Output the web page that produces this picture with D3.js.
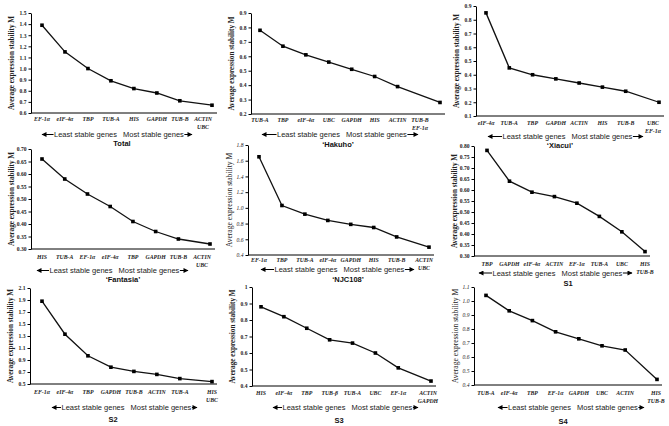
<!DOCTYPE html>
<html><head><meta charset="utf-8">
<script src="https://cdn.jsdelivr.net/npm/d3@7"></script>
<style>body{margin:0;background:#fff}svg{display:block}</style>
</head><body>
<svg id="c" width="669" height="426"></svg>
<script>
// ---- data ----
const titles = ["Total", "‘Hakuho’", "‘Xiacui’", "‘Fantasia’", "‘NJC108’", "S1", "S2", "S3", "S4"];

const genesTotal = ["EF-1α","eIF-4α","TBP","TUB-A","HIS","GAPDH","TUB-B","ACTIN/UBC"];
const valsTotal  = [1.39, 1.15, 1.00, 0.89, 0.82, 0.78, 0.71, 0.67];
const ticksTotal = [0.6,0.7,0.8,0.9,1.0,1.1,1.2,1.3,1.4,1.5];

const genesHakuho = ["TUB-A","TBP","eIF-4α","UBC","GAPDH","HIS","ACTIN","TUB-B/EF-1α"];
const valsHakuho  = [0.78, 0.67, 0.61, 0.56, 0.51, 0.46, 0.39, 0.28];
const ticksHakuho = [0.2,0.3,0.4,0.5,0.6,0.7,0.8,0.9];

const genesXiacui = ["eIF-4α","TUB-A","TBP","GAPDH","ACTIN","HIS","TUB-B","UBC/EF-1α"];
const valsXiacui  = [0.85, 0.45, 0.40, 0.37, 0.34, 0.31, 0.28, 0.20];
const ticksXiacui = [0.1,0.2,0.3,0.4,0.5,0.6,0.7,0.8,0.9];

const genesFantasia = ["HIS","TUB-A","EF-1α","eIF-4α","TBP","GAPDH","TUB-B","ACTIN/UBC"];
const valsFantasia  = [0.66, 0.58, 0.52, 0.47, 0.41, 0.37, 0.34, 0.32];
const ticksFantasia = [0.30,0.35,0.40,0.45,0.50,0.55,0.60,0.65,0.70];

const genesNJC = ["EF-1α","TBP","TUB-A","eIF-4α","GAPDH","HIS","TUB-B","ACTIN/UBC"];
const valsNJC  = [1.65, 1.03, 0.92, 0.84, 0.79, 0.75, 0.63, 0.50];
const ticksNJC = [0.4,0.6,0.8,1.0,1.2,1.4,1.6,1.8];

const genesS1 = ["TBP","GAPDH","eIF-4α","ACTIN","EF-1α","TUB-A","UBC","HIS/TUB-B"];
const valsS1  = [0.78, 0.64, 0.59, 0.57, 0.54, 0.48, 0.41, 0.32];
const ticksS1 = [0.30,0.35,0.40,0.45,0.50,0.55,0.60,0.65,0.70,0.75,0.80];

const genesS2 = ["EF-1α","eIF-4α","TBP","GAPDH","TUB-B","ACTIN","TUB-A","HIS/UBC"];
const valsS2  = [1.88, 1.33, 0.97, 0.78, 0.71, 0.66, 0.59, 0.54];
const ticksS2 = [0.5,0.7,0.9,1.1,1.3,1.5,1.7,1.9,2.1];

const genesS3 = ["HIS","eIF-4α","TBP","TUB-β","TUB-A","UBC","EF-1α","ACTIN/GAPDH"];
const valsS3  = [0.88, 0.82, 0.75, 0.68, 0.66, 0.60, 0.51, 0.43];
const ticksS3 = [0.4,0.5,0.6,0.7,0.8,0.9,1];

const genesS4 = ["TUB-A","eIF-4α","TBP","EF-1α","GAPDH","UBC","ACTIN","HIS/TUB-B"];
const valsS4  = [1.04, 0.93, 0.86, 0.78, 0.73, 0.68, 0.65, 0.44];
const ticksS4 = [0.4,0.5,0.6,0.7,0.8,0.9,1.0,1.1];

const tickFormats = [".1f",".1f",".1f",".2f",".1f",".2f",".1f","~g",".1f"];

// ---- layout (positions / styles only) ----
const layout = [
  {left:31, top:13, bottom:113, x0:42, xN:212, gap:1.40, lastDx:-9, labelY:121, arrowY:137, ax:[42,192], titleX:122, titleY:146, bold:true},
  {left:251, top:13, bottom:114, x0:260, xN:440, gap:1.85, lastDx:-20, labelY:122, arrowY:137, ax:[262,418], titleX:338, titleY:147, bold:true},
  {left:476, top:6, bottom:116, x0:486, xN:659, gap:1.43, lastDx:-6, labelY:125, arrowY:139, ax:[488,643], titleX:560, titleY:148, bold:true},
  {left:31, top:149, bottom:249, x0:42, xN:210, gap:1.39, lastDx:-8, labelY:259, arrowY:273, ax:[37,188], titleX:123, titleY:282, bold:true},
  {left:248, top:145, bottom:255, x0:259, xN:429, gap:1.41, lastDx:-5, labelY:262, arrowY:272, ax:[261,414], titleX:348, titleY:282, bold:false},
  {left:474, top:146, bottom:256, x0:487, xN:645, gap:1.03, lastDx:0, labelY:266, arrowY:275.5, ax:[479,632], titleX:568, titleY:285.5, bold:true},
  {left:30, top:288, bottom:384, x0:42, xN:212, gap:1.40, lastDx:0, labelY:394, arrowY:410, ax:[52,197], titleX:113, titleY:422, bold:true},
  {left:252, top:287, bottom:386, x0:261, xN:431, gap:1.43, lastDx:-3, labelY:395, arrowY:410, ax:[273,418], titleX:339, titleY:423, bold:true},
  {left:474, top:287, bottom:385, x0:486, xN:657, gap:1.37, lastDx:-1, labelY:395, arrowY:410, ax:[498,644], titleX:563, titleY:424, bold:false}
];

const panels = [
  [genesTotal, valsTotal, ticksTotal],
  [genesHakuho, valsHakuho, ticksHakuho],
  [genesXiacui, valsXiacui, ticksXiacui],
  [genesFantasia, valsFantasia, ticksFantasia],
  [genesNJC, valsNJC, ticksNJC],
  [genesS1, valsS1, ticksS1],
  [genesS2, valsS2, ticksS2],
  [genesS3, valsS3, ticksS3],
  [genesS4, valsS4, ticksS4]
];

const svg = d3.select("#c");
const serif = "'Liberation Serif','Times New Roman',serif";
const sans = "'Liberation Sans',Arial,sans-serif";

// arrow marker
const defs = svg.append("defs");
defs.append("marker").attr("id","ah").attr("viewBox","0 0 10 10")
  .attr("refX",9).attr("refY",5).attr("markerWidth",7).attr("markerHeight",5)
  .attr("markerUnits","userSpaceOnUse").attr("orient","auto-start-reverse")
  .append("path").attr("d","M0,0 L10,5 L0,10 Z").attr("fill","#000");

panels.forEach(([genes, vals, ticks], k) => {
  const L = layout[k];
  const g = svg.append("g");
  const n = genes.length;
  const pos = genes.map((_, i) => i < n - 1 ? i : (n - 2) + L.gap);
  const x = d3.scaleLinear().domain([0, (n - 2) + L.gap]).range([L.x0, L.xN]);
  const y = d3.scaleLinear().domain(d3.extent(ticks)).range([L.bottom, L.top]);

  // y axis
  const yAxis = d3.axisLeft(y).tickValues(ticks).tickFormat(d3.format(tickFormats[k]))
    .tickSize(2.5).tickSizeOuter(0).tickPadding(2);
  const ya = g.append("g").attr("transform", `translate(${L.left},0)`).call(yAxis);
  ya.select(".domain").attr("stroke","#000").attr("stroke-width",1);
  ya.selectAll(".tick line").attr("stroke","#000");
  ya.selectAll("text").attr("font-family", serif).attr("font-weight", L.bold ? "bold" : "normal")
    .attr("font-style", L.bold ? "normal" : "italic")
    .attr("font-size", 5.6).attr("fill","#222");

  // x axis line
  g.append("line").attr("x1", L.left).attr("x2", L.xN + 5)
    .attr("y1", L.bottom).attr("y2", L.bottom).attr("stroke","#000").attr("stroke-width",1);

  // y label
  g.append("text")
    .attr("transform", `translate(${L.left - 19},${(L.top + L.bottom) / 2}) rotate(-90)`)
    .attr("text-anchor","middle").attr("dominant-baseline","central")
    .attr("font-family", serif).attr("font-weight", L.bold ? "bold" : "normal")
    .attr("font-size", L.bold ? 7.2 : 7.6).attr("fill","#222")
    .text("Average expression stability M");

  // x tick labels
  genes.forEach((gn, i) => {
    const parts = gn.split("/");
    const cx = x(pos[i]) + (i === n - 1 ? L.lastDx : 0);
    parts.forEach((p, j) => {
      g.append("text").attr("x", cx).attr("y", L.labelY + j * 7.5)
        .attr("text-anchor","middle").attr("font-family", serif)
        .attr("font-weight","bold").attr("font-style","italic")
        .attr("font-size", 5.8).attr("fill","#222").text(p);
    });
  });

  // line + markers
  const pts = vals.map((v, i) => [x(pos[i]), y(v)]);
  g.append("path").attr("d", d3.line()(pts)).attr("fill","none")
    .attr("stroke","#111").attr("stroke-width",1.3);
  g.selectAll("rect.m").data(pts).join("rect").attr("class","m")
    .attr("x", d => d[0] - 1.8).attr("y", d => d[1] - 1.8)
    .attr("width", 3.6).attr("height", 3.6).attr("fill","#000");

  // arrow row
  const mid = (L.ax[0] + L.ax[1]) / 2 + 3;
  const tl = g.append("text").attr("x", mid - 3).attr("y", L.arrowY).attr("text-anchor","end")
    .attr("font-family", sans).attr("font-size", 7.5).attr("fill","#222").text("Least stable genes");
  const tr = g.append("text").attr("x", mid + 3).attr("y", L.arrowY).attr("text-anchor","start")
    .attr("font-family", sans).attr("font-size", 7.5).attr("fill","#222").text("Most stable genes");
  const wl = tl.node().getComputedTextLength();
  const wr = tr.node().getComputedTextLength();
  const ay = L.arrowY - 2.5;
  g.append("line").attr("x1", mid - 3 - wl - 0.5).attr("x2", L.ax[0]).attr("y1", ay).attr("y2", ay)
    .attr("stroke","#000").attr("stroke-width",1).attr("marker-end","url(#ah)");
  g.append("line").attr("x1", mid + 3 + wr + 0.5).attr("x2", L.ax[1]).attr("y1", ay).attr("y2", ay)
    .attr("stroke","#000").attr("stroke-width",1).attr("marker-end","url(#ah)");

  // title
  g.append("text").attr("x", L.titleX).attr("y", L.titleY).attr("text-anchor","middle")
    .attr("font-family", sans).attr("font-weight","bold").attr("font-size", 7.5)
    .attr("fill","#111").text(titles[k]);
});
</script>
</body></html>
